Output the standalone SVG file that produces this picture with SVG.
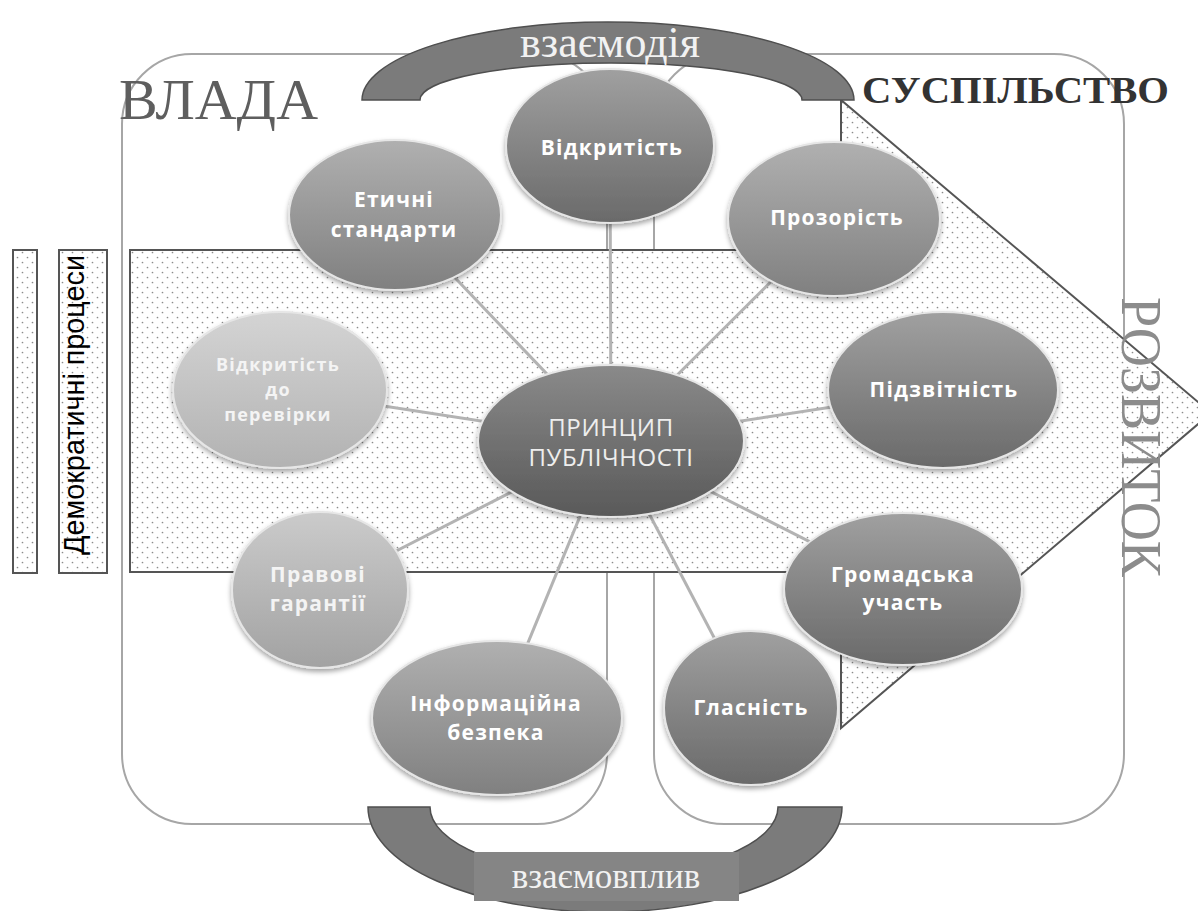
<svg xmlns="http://www.w3.org/2000/svg" width="1198" height="911" viewBox="0 0 1198 911">
<style>
.frame{fill:none;stroke:#a6a6a6;stroke-width:2}
.dotted{fill:url(#dots);stroke:#555;stroke-width:2}
.band{fill:#7b7b7b;stroke:#4f4f4f;stroke-width:1.5}
.conn{stroke:#b3b3b3;stroke-width:3;fill:none}
.node{stroke:#e6e6e6;stroke-width:2;filter:url(#sh)}
.lbl{font-family:"Open Sans","DejaVu Sans",sans-serif;font-weight:700;font-size:21px;letter-spacing:1.2px;fill:#fff;text-anchor:middle}
.lbl2{font-family:"Open Sans","DejaVu Sans",sans-serif;font-weight:700;font-size:21px;letter-spacing:1.2px;fill:#f4f4f4;text-anchor:middle}
.lbl3{font-family:"Open Sans","DejaVu Sans",sans-serif;font-weight:700;font-size:18px;letter-spacing:1.2px;fill:#f4f4f4;text-anchor:middle}
.serif{font-family:"Liberation Serif","Times New Roman",serif}
</style>
<defs>
<pattern id="dots" width="10" height="10" patternUnits="userSpaceOnUse">
<rect width="10" height="10" fill="#fff"/>
<circle cx="2.5" cy="2.5" r="0.85" fill="#8c8c8c"/>
<circle cx="7.5" cy="7.5" r="0.85" fill="#8c8c8c"/>
</pattern>
<linearGradient id="gDark" x1="0" y1="0" x2="0" y2="1"><stop offset="0" stop-color="#a0a0a0"/><stop offset="1" stop-color="#6a6a6a"/></linearGradient>
<linearGradient id="gMid" x1="0" y1="0" x2="0" y2="1"><stop offset="0" stop-color="#b0b0b0"/><stop offset="1" stop-color="#808080"/></linearGradient>
<linearGradient id="gLight" x1="0" y1="0" x2="0" y2="1"><stop offset="0" stop-color="#cbcbcb"/><stop offset="1" stop-color="#a2a2a2"/></linearGradient>
<linearGradient id="gLighter" x1="0" y1="0" x2="0" y2="1"><stop offset="0" stop-color="#d4d4d4"/><stop offset="1" stop-color="#b2b2b2"/></linearGradient>
<linearGradient id="gCenter" x1="0" y1="0" x2="0" y2="1"><stop offset="0" stop-color="#8a8a8a"/><stop offset="1" stop-color="#595959"/></linearGradient>
<filter id="sh" x="-10%" y="-10%" width="120%" height="130%">
<feDropShadow dx="0" dy="3" stdDeviation="2.5" flood-color="#000" flood-opacity="0.35"/>
</filter>
</defs>

<g id="frames">
<rect class="frame" x="122" y="54" width="485" height="770" rx="70" ry="70"/>
<rect class="frame" x="654" y="54" width="470" height="770" rx="70" ry="70"/>
</g>

<g id="left-boxes">
<rect class="dotted" x="13" y="250" width="24" height="323"/>
<rect class="dotted" x="59" y="250" width="48" height="323"/>
<text x="0" y="0" transform="translate(84,555) rotate(-90)" font-family="Liberation Sans, Arial, sans-serif" font-size="29" fill="#000" textLength="300" lengthAdjust="spacingAndGlyphs">Демократичні процеси</text>
</g>

<g id="arrow">
<polygon class="dotted" points="130,250 841,250 841,100 1211,413 841,728 841,572 130,572"/>
</g>

<g id="band-top">
<path class="band" d="M362,100 A246 78 0 0 1 854,100 L802,100 A191 37 0 0 0 420,100 Z"/>
<text class="serif" x="610" y="57" font-size="44" fill="#f2f2f2" text-anchor="middle">взаємодія</text>
</g>

<g id="band-bottom">
<path class="band" d="M368,807 A237 105 0 0 0 842,807 L778,807 A174 68 0 0 1 430,807 Z"/>
<rect x="474" y="852" width="265" height="49" fill="#858585"/>
<text class="serif" x="606" y="888" font-size="35" fill="#f2f2f2" text-anchor="middle">взаємовплив</text>
</g>

<g id="titles">
<text class="serif" x="119" y="119" font-size="56" fill="#5e5e5e" textLength="199" lengthAdjust="spacingAndGlyphs">ВЛАДА</text>
<text class="serif" x="862" y="103" font-size="38" font-weight="bold" fill="#333" textLength="307" lengthAdjust="spacingAndGlyphs">СУСПІЛЬСТВО</text>
<text class="serif" x="0" y="0" transform="translate(1122,297) rotate(90)" font-size="58" fill="#8c8c8c" textLength="280" lengthAdjust="spacingAndGlyphs">РОЗВИТОК</text>
</g>

<g id="connectors">
<line class="conn" x1="611" y1="441" x2="610" y2="146"/>
<line class="conn" x1="611" y1="441" x2="395" y2="215"/>
<line class="conn" x1="611" y1="441" x2="834" y2="219"/>
<line class="conn" x1="611" y1="441" x2="943" y2="390"/>
<line class="conn" x1="611" y1="441" x2="903" y2="589"/>
<line class="conn" x1="611" y1="441" x2="751" y2="708"/>
<line class="conn" x1="611" y1="441" x2="497" y2="718"/>
<line class="conn" x1="611" y1="441" x2="320" y2="590"/>
<line class="conn" x1="611" y1="441" x2="280" y2="390"/>
</g>

<g id="n-vidkrytist">
<ellipse class="node" cx="610" cy="146" rx="104" ry="77" fill="url(#gDark)"/>
<text class="lbl" x="612" y="155">Відкритість</text>
</g>
<g id="n-etychni">
<ellipse class="node" cx="395" cy="215" rx="106" ry="75" fill="url(#gMid)"/>
<text class="lbl" x="394" y="207">Етичні</text>
<text class="lbl" x="394" y="237">стандарти</text>
</g>
<g id="n-prozorist">
<ellipse class="node" cx="834" cy="219" rx="106" ry="77" fill="url(#gMid)"/>
<text class="lbl" x="837" y="225">Прозорість</text>
</g>
<g id="n-pidzvitnist">
<ellipse class="node" cx="943" cy="390" rx="115" ry="78" fill="url(#gDark)"/>
<text class="lbl" x="944" y="397">Підзвітність</text>
</g>
<g id="n-hromadska">
<ellipse class="node" cx="903" cy="589" rx="119" ry="76" fill="url(#gDark)"/>
<text class="lbl" x="903" y="582">Громадська</text>
<text class="lbl" x="903" y="610">участь</text>
</g>
<g id="n-hlasnist">
<ellipse class="node" cx="751" cy="708" rx="87" ry="77" fill="url(#gDark)"/>
<text class="lbl" x="751" y="715">Гласність</text>
</g>
<g id="n-infobezpeka">
<ellipse class="node" cx="497" cy="718" rx="125" ry="77" fill="url(#gMid)"/>
<text class="lbl" x="496" y="711">Інформаційна</text>
<text class="lbl" x="496" y="740">безпека</text>
</g>
<g id="n-pravovi">
<ellipse class="node" cx="320" cy="590" rx="88" ry="78" fill="url(#gLight)"/>
<text class="lbl2" x="318" y="582">Правові</text>
<text class="lbl2" x="318" y="611">гарантії</text>
</g>
<g id="n-perevirka">
<ellipse class="node" cx="280" cy="390" rx="107" ry="78" fill="url(#gLighter)"/>
<text class="lbl3" x="278" y="371">Відкритість</text>
<text class="lbl3" x="278" y="396">до</text>
<text class="lbl3" x="278" y="421">перевірки</text>
</g>
<g id="n-center">
<ellipse class="node" cx="611" cy="441" rx="133" ry="76" fill="url(#gCenter)"/>
<text x="611" y="436" font-family="Open Sans, DejaVu Sans, sans-serif" font-size="24" letter-spacing="0.6" fill="#eee" text-anchor="middle">ПРИНЦИП</text>
<text x="611" y="466" font-family="Open Sans, DejaVu Sans, sans-serif" font-size="24" letter-spacing="0.6" fill="#eee" text-anchor="middle">ПУБЛІЧНОСТІ</text>
</g>
</svg>
